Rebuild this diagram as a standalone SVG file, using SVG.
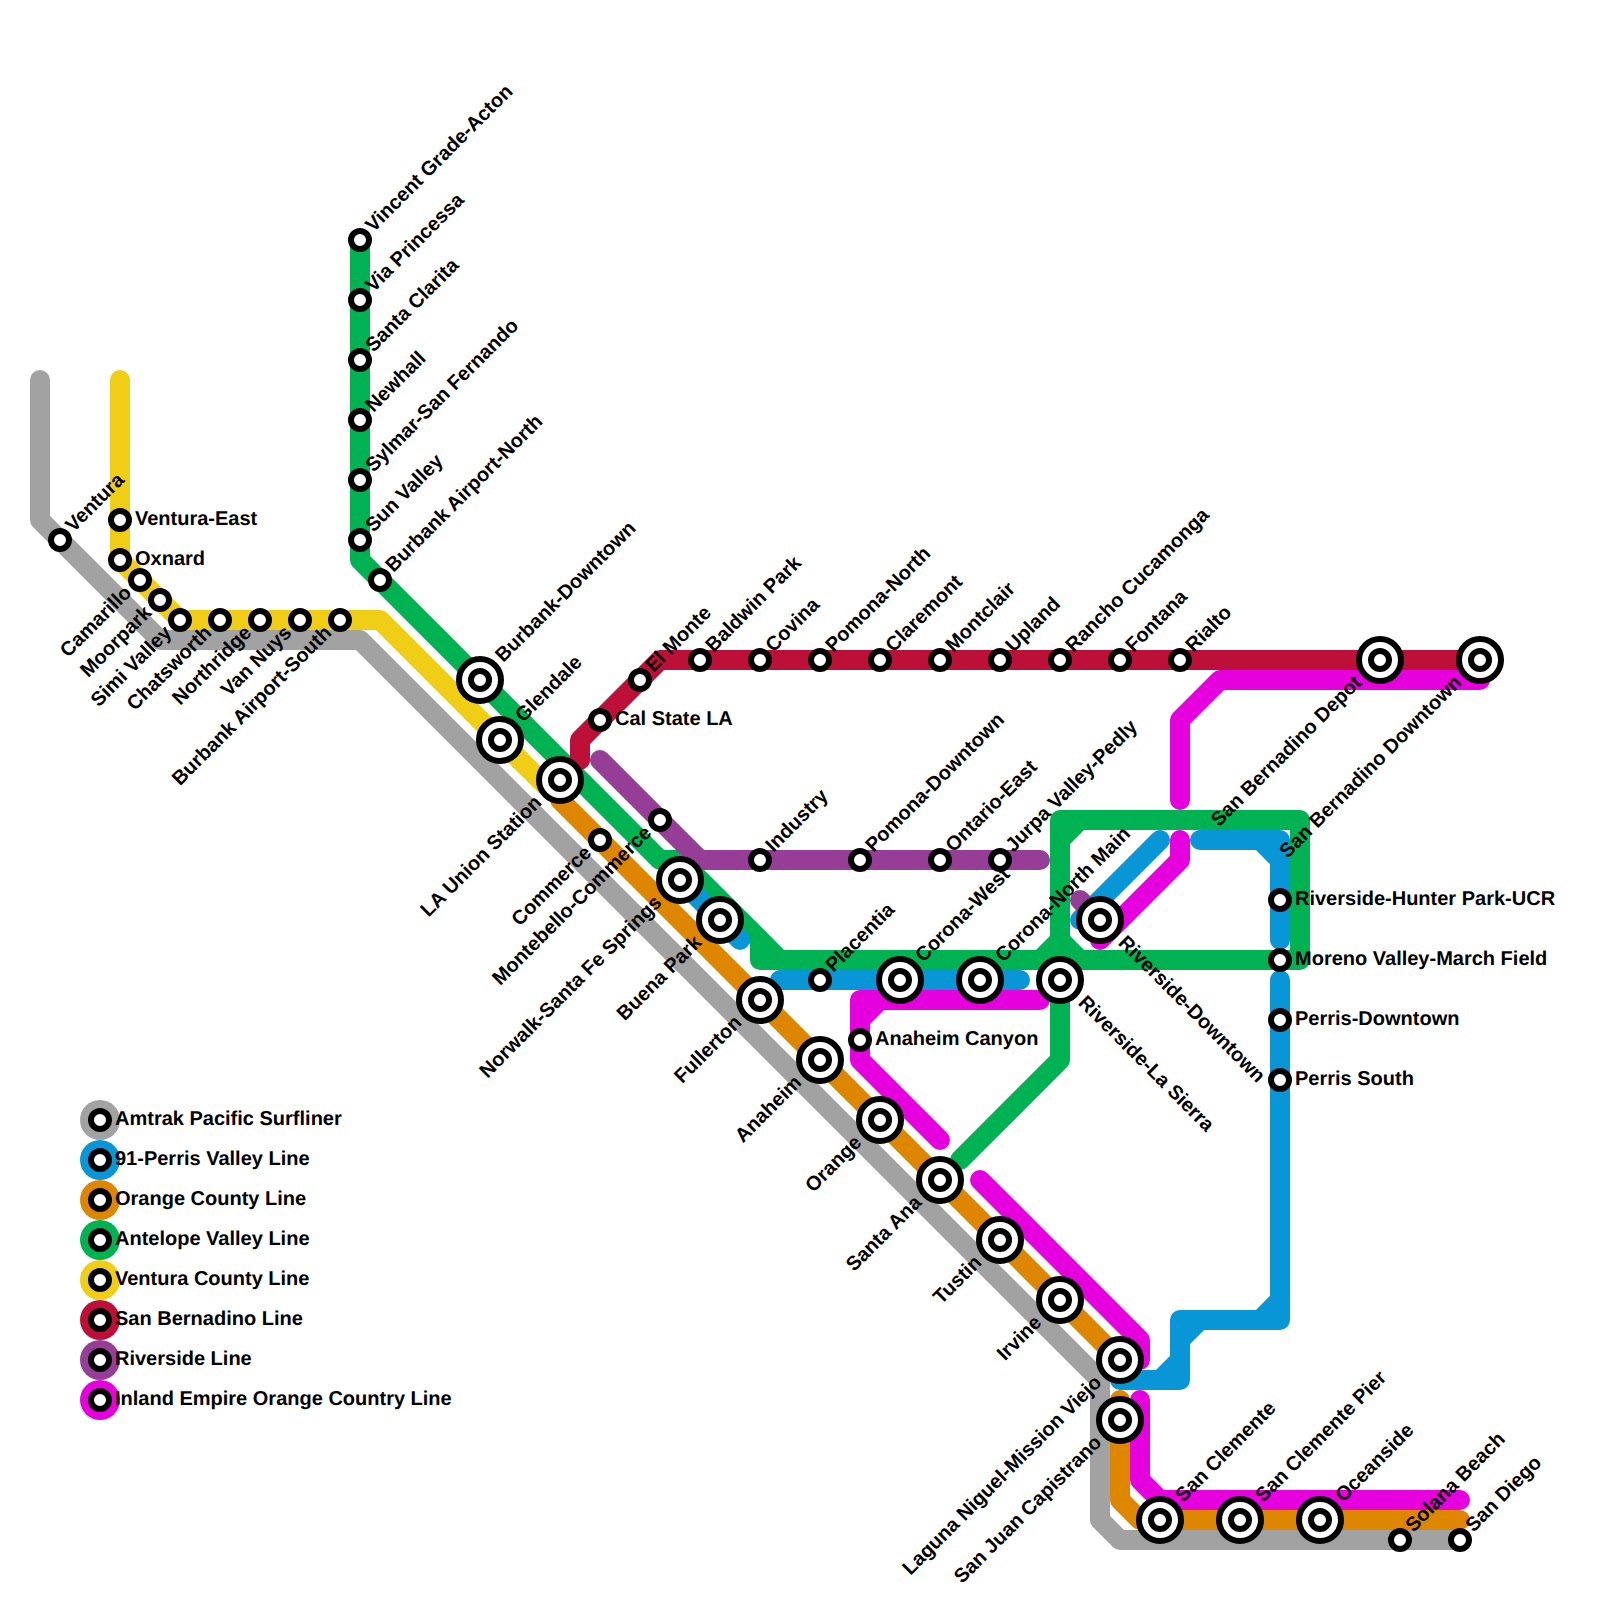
<svg xmlns="http://www.w3.org/2000/svg" width="1600" height="1600" viewBox="0 0 1600 1600">
<style>
.l{fill:none;stroke-width:20;stroke-linecap:round;stroke-linejoin:round}
.gray{stroke:#a2a2a2}.blue{stroke:#0896d7}.orange{stroke:#df8600}.green{stroke:#00b251}.yellow{stroke:#f0ce15}.red{stroke:#bd1038}.purple{stroke:#963d97}.mag{stroke:#e600de}
.s{fill:#fff;stroke:#000;stroke-width:6}
text{font-family:"Liberation Sans",Arial,sans-serif;font-weight:bold;font-size:20px;fill:#000;text-rendering:geometricPrecision}
.e{text-anchor:end}
</style>
<defs>
<g id="sm"><circle class="s" r="9"/></g>
<g id="lg"><circle class="s" r="21"/><circle class="s" r="9"/></g>
</defs>
<rect width="1600" height="1600" fill="#fff"/>
<g id="connectors">
<path class="l gray" d="M40,380V520L160,640H360L1100,1380V1520L1120,1540H1460"/>
<path class="l orange" d="M560,800L1120,1360"/>
<path class="l orange" d="M1120,1400V1500L1140,1520H1460"/>
<path class="l green" d="M360,240V560L660,860H680L780,960H1300V820H1060V1060L960,1160"/>
<path class="l green" d="M760,940V960H800"/>
<path class="l green" d="M1060,840L1080,820M1040,960L1060,940L1080,960"/>
<path class="l yellow" d="M120,380V560L180,620H380L545,785"/>
<path class="l blue" d="M680,880L740,940"/>
<path class="l blue" d="M780,980H1020"/>
<path class="l blue" d="M1160,840L1080,920"/>
<path class="l blue" d="M1200,840H1280V940M1260,840L1280,860"/>
<path class="l blue" d="M1280,980V1320H1180V1380H1120M1280,1300L1260,1320M1200,1320L1180,1340M1180,1360L1160,1380"/>
<path class="l red" d="M580,760V740L660,660H1480"/>
<path class="l purple" d="M600,760L700,860H1040"/>
<path class="l purple" d="M1080,900L1100,920"/>
<path class="l mag" d="M1180,800V720L1220,680H1480"/>
<path class="l mag" d="M1180,840V860L1100,940"/>
<path class="l mag" d="M1040,1000H860V1060L940,1140M880,1000L860,1020"/>
<path class="l mag" d="M980,1180L1140,1340V1360"/>
<path class="l mag" d="M1140,1400V1480L1160,1500H1460"/>
</g>
<g id="legend">
<circle cx="100" cy="1120" r="20" fill="#a2a2a2"/><use href="#sm" x="100" y="1120"/><text x="115" y="1124.500">Amtrak Pacific Surfliner</text>
<circle cx="100" cy="1160" r="20" fill="#0896d7"/><use href="#sm" x="100" y="1160"/><text x="115" y="1164.500">91-Perris Valley Line</text>
<circle cx="100" cy="1200" r="20" fill="#df8600"/><use href="#sm" x="100" y="1200"/><text x="115" y="1204.500">Orange County Line</text>
<circle cx="100" cy="1240" r="20" fill="#00b251"/><use href="#sm" x="100" y="1240"/><text x="115" y="1244.500">Antelope Valley Line</text>
<circle cx="100" cy="1280" r="20" fill="#f0ce15"/><use href="#sm" x="100" y="1280"/><text x="115" y="1284.500">Ventura County Line</text>
<circle cx="100" cy="1320" r="20" fill="#bd1038"/><use href="#sm" x="100" y="1320"/><text x="115" y="1324.500">San Bernadino Line</text>
<circle cx="100" cy="1360" r="20" fill="#963d97"/><use href="#sm" x="100" y="1360"/><text x="115" y="1364.500">Riverside Line</text>
<circle cx="100" cy="1400" r="20" fill="#e600de"/><use href="#sm" x="100" y="1400"/><text x="115" y="1404.500">Inland Empire Orange Country Line</text>
</g>
<g id="n-ventura" transform="translate(60,540)"><use href="#sm"/><text transform="rotate(-45)" x="14.500" y="4.500">Ventura</text></g>
<g id="n-ventura-east" transform="translate(120,520)"><use href="#sm"/><text x="15" y="4.500">Ventura-East</text></g>
<g id="n-oxnard" transform="translate(120,560)"><use href="#sm"/><text x="15" y="4.500">Oxnard</text></g>
<g id="n-camarillo" transform="translate(140,580)"><use href="#sm"/><text class="e" transform="rotate(-45)" x="-15" y="4.500">Camarillo</text></g>
<g id="n-moorpark" transform="translate(160,600)"><use href="#sm"/><text class="e" transform="rotate(-45)" x="-15" y="4.500">Moorpark</text></g>
<g id="n-simi" transform="translate(180,620)"><use href="#sm"/><text class="e" transform="rotate(-45)" x="-15" y="4.500">Simi Valley</text></g>
<g id="n-chatsworth" transform="translate(220,620)"><use href="#sm"/><text class="e" transform="rotate(-45)" x="-15" y="4.500">Chatsworth</text></g>
<g id="n-northridge" transform="translate(260,620)"><use href="#sm"/><text class="e" transform="rotate(-45)" x="-15" y="4.500">Northridge</text></g>
<g id="n-vannuys" transform="translate(300,620)"><use href="#sm"/><text class="e" transform="rotate(-45)" x="-15" y="4.500">Van Nuys</text></g>
<g id="n-bur-south" transform="translate(340,620)"><use href="#sm"/><text class="e" transform="rotate(-45)" x="-15" y="4.500">Burbank Airport-South</text></g>
<g id="n-vincent" transform="translate(360,240)"><use href="#sm"/><text transform="rotate(-45)" x="14.500" y="4.500">Vincent Grade-Acton</text></g>
<g id="n-via" transform="translate(360,300)"><use href="#sm"/><text transform="rotate(-45)" x="14.500" y="4.500">Via Princessa</text></g>
<g id="n-santaclarita" transform="translate(360,360)"><use href="#sm"/><text transform="rotate(-45)" x="14.500" y="4.500">Santa Clarita</text></g>
<g id="n-newhall" transform="translate(360,420)"><use href="#sm"/><text transform="rotate(-45)" x="14.500" y="4.500">Newhall</text></g>
<g id="n-sylmar" transform="translate(360,480)"><use href="#sm"/><text transform="rotate(-45)" x="14.500" y="4.500">Sylmar-San Fernando</text></g>
<g id="n-sunvalley" transform="translate(360,540)"><use href="#sm"/><text transform="rotate(-45)" x="14.500" y="4.500">Sun Valley</text></g>
<g id="n-bur-north" transform="translate(380,580)"><use href="#sm"/><text transform="rotate(-45)" x="14.500" y="4.500">Burbank Airport-North</text></g>
<g id="n-bur-down" transform="translate(480,680)"><use href="#lg"/><text transform="rotate(-45)" x="28.500" y="4.500">Burbank-Downtown</text></g>
<g id="n-glendale" transform="translate(500,740)"><use href="#lg"/><text transform="rotate(-45)" x="28.500" y="4.500">Glendale</text></g>
<g id="n-union" transform="translate(560,780)"><use href="#lg"/><text class="e" transform="rotate(-45)" x="-29" y="4.500">LA Union Station</text></g>
<g id="n-commerce" transform="translate(600,840)"><use href="#sm"/><text class="e" transform="rotate(-45)" x="-15" y="4.500">Commerce</text></g>
<g id="n-calstate" transform="translate(600,720)"><use href="#sm"/><text x="15" y="4.500">Cal State LA</text></g>
<g id="n-elmonte" transform="translate(640,680)"><use href="#sm"/><text transform="rotate(-45)" x="14.500" y="4.500">El Monte</text></g>
<g id="n-baldwin" transform="translate(700,660)"><use href="#sm"/><text transform="rotate(-45)" x="14.500" y="4.500">Baldwin Park</text></g>
<g id="n-covina" transform="translate(760,660)"><use href="#sm"/><text transform="rotate(-45)" x="14.500" y="4.500">Covina</text></g>
<g id="n-pomona-n" transform="translate(820,660)"><use href="#sm"/><text transform="rotate(-45)" x="14.500" y="4.500">Pomona-North</text></g>
<g id="n-claremont" transform="translate(880,660)"><use href="#sm"/><text transform="rotate(-45)" x="14.500" y="4.500">Claremont</text></g>
<g id="n-montclair" transform="translate(940,660)"><use href="#sm"/><text transform="rotate(-45)" x="14.500" y="4.500">Montclair</text></g>
<g id="n-upland" transform="translate(1000,660)"><use href="#sm"/><text transform="rotate(-45)" x="14.500" y="4.500">Upland</text></g>
<g id="n-rancho" transform="translate(1060,660)"><use href="#sm"/><text transform="rotate(-45)" x="14.500" y="4.500">Rancho Cucamonga</text></g>
<g id="n-fontana" transform="translate(1120,660)"><use href="#sm"/><text transform="rotate(-45)" x="14.500" y="4.500">Fontana</text></g>
<g id="n-rialto" transform="translate(1180,660)"><use href="#sm"/><text transform="rotate(-45)" x="14.500" y="4.500">Rialto</text></g>
<g id="n-sb-depot" transform="translate(1380,660)"><use href="#lg"/><text class="e" transform="rotate(-45)" x="-29" y="4.500">San Bernadino Depot</text></g>
<g id="n-sb-down" transform="translate(1480,660)"><use href="#lg"/><text class="e" transform="rotate(-45)" x="-29" y="4.500">San Bernadino Downtown</text></g>
<g id="n-montebello" transform="translate(660,820)"><use href="#sm"/><text class="e" transform="rotate(-45)" x="-15" y="4.500">Montebello-Commerce</text></g>
<g id="n-industry" transform="translate(760,860)"><use href="#sm"/><text transform="rotate(-45)" x="14.500" y="4.500">Industry</text></g>
<g id="n-pomona-d" transform="translate(860,860)"><use href="#sm"/><text transform="rotate(-45)" x="14.500" y="4.500">Pomona-Downtown</text></g>
<g id="n-ontario" transform="translate(940,860)"><use href="#sm"/><text transform="rotate(-45)" x="14.500" y="4.500">Ontario-East</text></g>
<g id="n-jurupa" transform="translate(1000,860)"><use href="#sm"/><text transform="rotate(-45)" x="14.500" y="4.500">Jurpa Valley-Pedly</text></g>
<g id="n-norwalk" transform="translate(680,880)"><use href="#lg"/><text class="e" transform="rotate(-45)" x="-29" y="4.500">Norwalk-Santa Fe Springs</text></g>
<g id="n-buena" transform="translate(720,920)"><use href="#lg"/><text class="e" transform="rotate(-45)" x="-29" y="4.500">Buena Park</text></g>
<g id="n-fullerton" transform="translate(760,1000)"><use href="#lg"/><text class="e" transform="rotate(-45)" x="-29" y="4.500">Fullerton</text></g>
<g id="n-placentia" transform="translate(820,980)"><use href="#sm"/><text transform="rotate(-45)" x="14.500" y="4.500">Placentia</text></g>
<g id="n-canyon" transform="translate(860,1040)"><use href="#sm"/><text x="15" y="4.500">Anaheim Canyon</text></g>
<g id="n-corona-w" transform="translate(900,980)"><use href="#lg"/><text transform="rotate(-45)" x="28.500" y="4.500">Corona-West</text></g>
<g id="n-corona-n" transform="translate(980,980)"><use href="#lg"/><text transform="rotate(-45)" x="28.500" y="4.500">Corona-North Main</text></g>
<g id="n-lasierra" transform="translate(1060,980)"><use href="#lg"/><text transform="rotate(45)" x="29" y="4.500">Riverside-La Sierra</text></g>
<g id="n-riverside" transform="translate(1100,920)"><use href="#lg"/><text transform="rotate(45)" x="29" y="4.500">Riverside-Downtown</text></g>
<g id="n-hunter" transform="translate(1280,900)"><use href="#sm"/><text x="15" y="4.500">Riverside-Hunter Park-UCR</text></g>
<g id="n-moreno" transform="translate(1280,960)"><use href="#sm"/><text x="15" y="4.500">Moreno Valley-March Field</text></g>
<g id="n-perris-d" transform="translate(1280,1020)"><use href="#sm"/><text x="15" y="4.500">Perris-Downtown</text></g>
<g id="n-perris-s" transform="translate(1280,1080)"><use href="#sm"/><text x="15" y="4.500">Perris South</text></g>
<g id="n-anaheim" transform="translate(820,1060)"><use href="#lg"/><text class="e" transform="rotate(-45)" x="-29" y="4.500">Anaheim</text></g>
<g id="n-orange" transform="translate(880,1120)"><use href="#lg"/><text class="e" transform="rotate(-45)" x="-29" y="4.500">Orange</text></g>
<g id="n-santaana" transform="translate(940,1180)"><use href="#lg"/><text class="e" transform="rotate(-45)" x="-29" y="4.500">Santa Ana</text></g>
<g id="n-tustin" transform="translate(1000,1240)"><use href="#lg"/><text class="e" transform="rotate(-45)" x="-29" y="4.500">Tustin</text></g>
<g id="n-irvine" transform="translate(1060,1300)"><use href="#lg"/><text class="e" transform="rotate(-45)" x="-29" y="4.500">Irvine</text></g>
<g id="n-laguna" transform="translate(1120,1360)"><use href="#lg"/><text class="e" transform="rotate(-45)" x="-29" y="4.500">Laguna Niguel-Mission Viejo</text></g>
<g id="n-sanjuan" transform="translate(1120,1420)"><use href="#lg"/><text class="e" transform="rotate(-45)" x="-29" y="4.500">San Juan Capistrano</text></g>
<g id="n-sanclemente" transform="translate(1160,1520)"><use href="#lg"/><text transform="rotate(-45)" x="28.500" y="4.500">San Clemente</text></g>
<g id="n-pier" transform="translate(1240,1520)"><use href="#lg"/><text transform="rotate(-45)" x="28.500" y="4.500">San Clemente Pier</text></g>
<g id="n-oceanside" transform="translate(1320,1520)"><use href="#lg"/><text transform="rotate(-45)" x="28.500" y="4.500">Oceanside</text></g>
<g id="n-solana" transform="translate(1400,1540)"><use href="#sm"/><text transform="rotate(-45)" x="14.500" y="4.500">Solana Beach</text></g>
<g id="n-sandiego" transform="translate(1460,1540)"><use href="#sm"/><text transform="rotate(-45)" x="14.500" y="4.500">San Diego</text></g>
</svg>
